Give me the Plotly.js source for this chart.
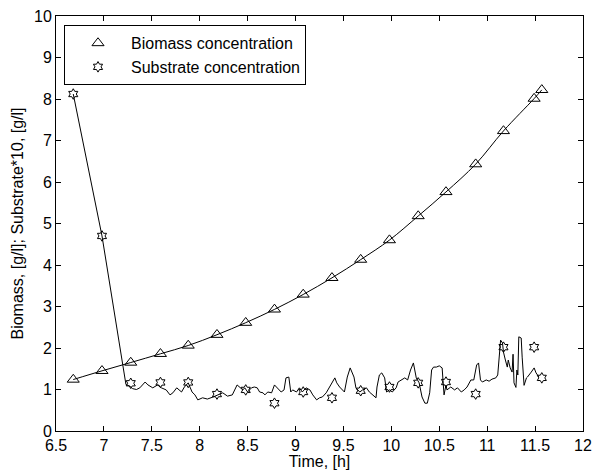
<!DOCTYPE html>
<html>
<head>
<meta charset="utf-8">
<script src="https://cdn.plot.ly/plotly-3.0.1.min.js"></script>
<style>html,body{margin:0;padding:0;background:#fff;}#chart{width:592px;height:470px;}</style>
</head>
<body>
<div id="chart"></div>
<script>
// Measurement times [h]
var timeMeas = [6.68, 6.98, 7.28, 7.59, 7.88, 8.18, 8.48, 8.78, 9.08, 9.38, 9.68, 9.98, 10.28, 10.57, 10.88, 11.17, 11.49, 11.57];
// Biomass concentration [g/l]
var biomass = [1.24, 1.45, 1.65, 1.86, 2.06, 2.32, 2.61, 2.93, 3.29, 3.69, 4.13, 4.60, 5.18, 5.76, 6.43, 7.23, 8.01, 8.22];
// Substrate concentration *10 [g/l] (measured)
var substrate = [8.12, 4.70, 1.15, 1.17, 1.17, 0.89, 0.99, 0.67, 0.94, 0.80, 0.97, 1.06, 1.16, 1.18, 0.89, 2.02, 2.02, 1.28];
// Estimated substrate curve
var estTime = [6.68, 6.98, 7.23, 7.27, 7.30, 7.34, 7.375, 7.43, 7.46, 7.51, 7.56, 7.60, 7.65, 7.69, 7.72, 7.76, 7.81, 7.84, 7.88, 7.92, 7.95, 7.98, 8.03, 8.08, 8.14, 8.19, 8.24, 8.29, 8.34, 8.39, 8.42, 8.45, 8.47, 8.50, 8.54, 8.57, 8.60, 8.625, 8.66, 8.68, 8.71, 8.75, 8.78, 8.81, 8.85, 8.88, 8.90, 8.93, 8.95, 8.97, 9.01, 9.04, 9.07, 9.11, 9.15, 9.18, 9.22, 9.25, 9.28, 9.32, 9.35, 9.41, 9.43, 9.46, 9.51, 9.54, 9.57, 9.61, 9.63, 9.67, 9.70, 9.74, 9.77, 9.80, 9.84, 9.85, 9.875, 9.90, 9.93, 9.95, 9.98, 10.01, 10.05, 10.07, 10.10, 10.14, 10.17, 10.20, 10.23, 10.26, 10.29, 10.32, 10.35, 10.375, 10.40, 10.42, 10.44, 10.47, 10.50, 10.53, 10.54, 10.55, 10.57, 10.58, 10.62, 10.66, 10.69, 10.73, 10.76, 10.79, 10.83, 10.86, 10.89, 10.91, 10.93, 10.95, 10.99, 11.02, 11.05, 11.09, 11.11, 11.14, 11.16, 11.17, 11.19, 11.21, 11.22, 11.24, 11.26, 11.27, 11.28, 11.30, 11.31, 11.32, 11.33, 11.355, 11.365, 11.385, 11.41, 11.42, 11.46, 11.49, 11.51, 11.54];
var estSub = [8.12, 4.70, 1.12, 1.08, 1.02, 1.00, 1.04, 1.18, 1.11, 1.04, 1.11, 1.04, 0.99, 0.87, 0.92, 1.04, 0.94, 1.06, 1.16, 0.94, 0.87, 0.75, 0.80, 0.77, 0.82, 0.87, 0.92, 0.84, 0.87, 1.11, 1.04, 0.99, 1.04, 0.94, 1.04, 1.06, 1.04, 0.94, 0.92, 0.87, 0.94, 0.92, 1.11, 1.04, 0.94, 0.99, 1.28, 1.30, 0.94, 0.99, 0.94, 1.04, 0.94, 1.04, 0.99, 0.87, 0.75, 0.80, 0.82, 0.92, 1.04, 1.28, 1.16, 1.06, 0.94, 1.30, 1.52, 1.30, 1.04, 0.94, 0.99, 1.04, 0.94, 0.87, 0.80, 1.06, 1.35, 1.40, 1.28, 0.94, 0.99, 0.94, 1.04, 1.18, 1.23, 1.28, 1.23, 1.47, 1.64, 1.28, 1.16, 0.82, 0.67, 0.67, 0.92, 1.47, 1.54, 1.54, 1.57, 1.52, 1.18, 0.87, 1.11, 0.99, 1.06, 0.99, 1.04, 0.94, 0.99, 1.06, 1.23, 1.23, 1.59, 1.64, 1.23, 1.18, 1.23, 1.20, 1.25, 1.28, 1.35, 2.19, 2.12, 1.90, 1.71, 1.54, 1.71, 1.52, 1.42, 1.85, 1.16, 1.05, 1.47, 1.35, 2.27, 2.24, 1.78, 1.10, 1.28, 1.30, 1.42, 1.52, 1.40, 1.30];

var xTicks = [6.5, 7, 7.5, 8, 8.5, 9, 9.5, 10, 10.5, 11, 11.5, 12];
var yTicks = [0, 1, 2, 3, 4, 5, 6, 7, 8, 9, 10];

var FONT = 'Liberation Sans, Arial, Helvetica, sans-serif';

var traces = [
  {x: timeMeas, y: biomass, mode: 'lines', line: {color: '#000', width: 1, shape: 'spline'}, showlegend: false, hoverinfo: 'skip'},
  {x: estTime, y: estSub, mode: 'lines', line: {color: '#000', width: 1}, showlegend: false, hoverinfo: 'skip'},
  {x: timeMeas, y: biomass, mode: 'markers', name: 'Biomass concentration',
   marker: {symbol: 'triangle-up-open', size: 10.5, color: '#000', line: {width: 1, color: '#000'}}},
  {x: timeMeas, y: substrate, mode: 'markers', name: 'Substrate concentration',
   marker: {symbol: 'hexagram-open', size: 8, color: '#000', line: {width: 1, color: '#000'}}}
];

var axisCommon = {
  showgrid: false, zeroline: false, showline: true, linecolor: '#000', linewidth: 1,
  mirror: 'allticks', ticks: 'inside', ticklen: 5, tickwidth: 1, tickcolor: '#000',
  tickfont: {family: FONT, size: 16, color: '#000'}
};

var layout = {
  width: 592, height: 470,
  margin: {l: 56, r: 9, t: 16, b: 39},
  paper_bgcolor: '#fff', plot_bgcolor: '#fff',
  font: {family: FONT, size: 16, color: '#000'},
  xaxis: Object.assign({}, axisCommon, {
    range: [6.5, 12], tickmode: 'array', tickvals: xTicks, ticktext: xTicks.map(String),
    title: {text: 'Time, [h]', font: {family: FONT, size: 16, color: '#000'}, standoff: 2}
  }),
  yaxis: Object.assign({}, axisCommon, {
    range: [0, 10], tickmode: 'array', tickvals: yTicks, ticktext: yTicks.map(String),
    title: {text: 'Biomass, [g/l]; Substrate*10, [g/l]', font: {family: FONT, size: 16, color: '#000'}, standoff: 6}
  }),
  legend: {
    x: 0.0152, y: 0.978, xanchor: 'left', yanchor: 'top',
    bgcolor: '#fff', bordercolor: '#000', borderwidth: 1,
    font: {family: FONT, size: 16, color: '#000'},
    itemwidth: 56
  },
  showlegend: true
};

Plotly.newPlot('chart', traces, layout, {displayModeBar: false, staticPlot: true});
</script>
</body>
</html>
